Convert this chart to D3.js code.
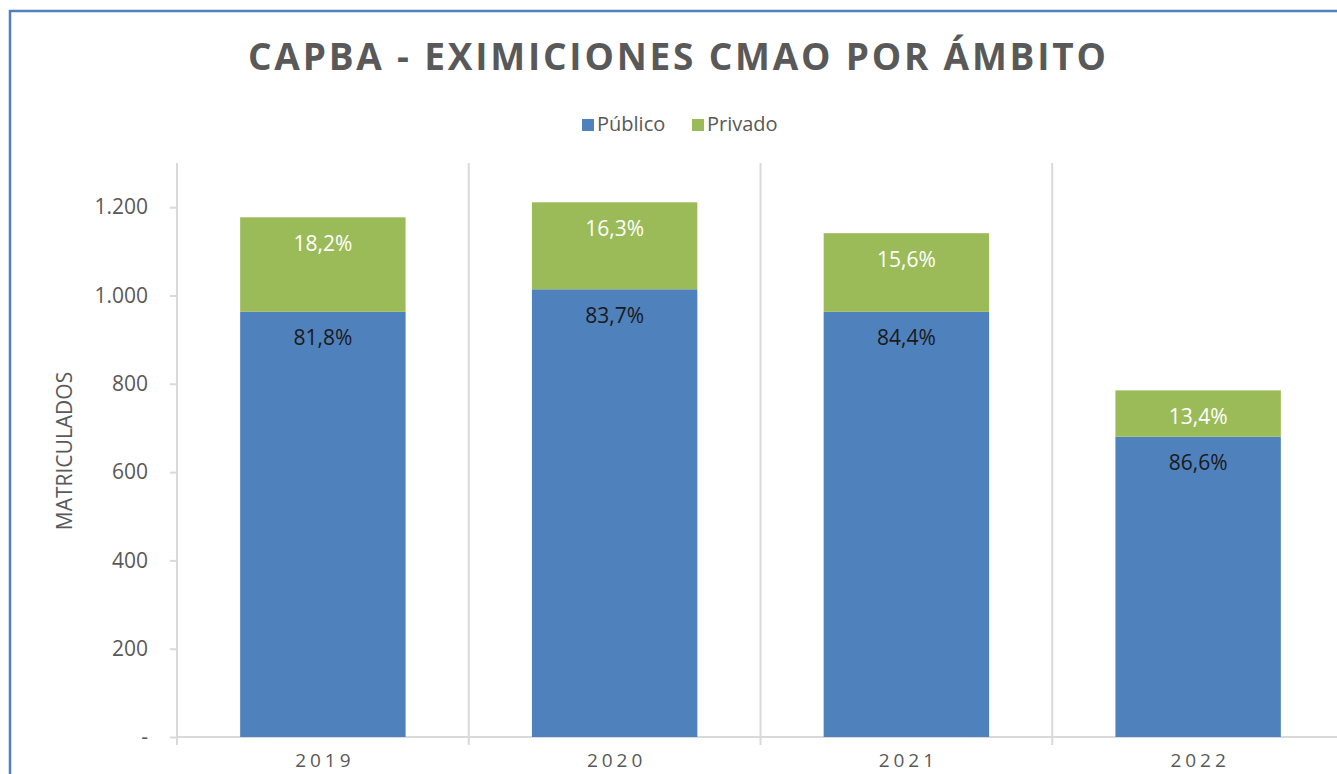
<!DOCTYPE html>
<html>
<head>
<meta charset="utf-8">
<script src="https://cdn.jsdelivr.net/npm/d3@7"></script>
<style>
  html, body { margin: 0; padding: 0; background: #fff; overflow: hidden; }
  svg { display: block; }
</style>
</head>
<body>
<svg id="chart" width="1337" height="774"></svg>
<script>
const YEARS = ["2019", "2020", "2021", "2022"]
const PUBLICO = [963, 1014, 963, 680]
const PRIVADO = [214, 197, 178, 105]
const SERIES = ["Público", "Privado"]
const Y_TICKS = [0, 200, 400, 600, 800, 1000, 1200]

const COLORS = { "Público": "#4f81bd", "Privado": "#9bbb59" }
const GRID = "#d9d9d9"
const TEXT = "#595959"
const FONT = "'Open Sans', 'Lato', sans-serif"

const svg = d3.select("#chart")

// chart border (runs past the right/bottom edges like the screenshot)
svg.append("rect")
  .attr("x", 10).attr("y", 11)
  .attr("width", 1400).attr("height", 800)
  .attr("fill", "none")
  .attr("stroke", "#4f81bd")
  .attr("stroke-width", 2.5)

const plot = { left: 177, right: 1344, top: 163, bottom: 737 }

const x = d3.scaleBand()
  .domain(YEARS)
  .range([plot.left, plot.right])
  .paddingInner(0.433)
  .paddingOuter(0.2165)

const y = d3.scaleLinear()
  .domain([0, 1300])
  .range([plot.bottom, plot.top])

// stacked data
const rows = YEARS.map((year, i) => ({ year, "Público": PUBLICO[i], "Privado": PRIVADO[i] }))
const stack = d3.stack().keys(SERIES)(rows)

// vertical gridlines at category boundaries
const step = x.step()
const bounds = d3.range(YEARS.length + 1).map(i => plot.left + i * step)
svg.append("g")
  .selectAll("line")
  .data(bounds)
  .join("line")
  .attr("x1", d => d).attr("x2", d => d)
  .attr("y1", plot.top).attr("y2", plot.bottom + 8)
  .attr("stroke", GRID)
  .attr("stroke-width", 2)

// x axis baseline
svg.append("line")
  .attr("x1", plot.left).attr("x2", plot.right)
  .attr("y1", plot.bottom).attr("y2", plot.bottom)
  .attr("stroke", GRID).attr("stroke-width", 2)

// y axis
const yAxis = d3.axisLeft(y)
  .tickValues(Y_TICKS)
  .tickSize(7)
  .tickPadding(22)
  .tickFormat(d => d === 0 ? "-" : d3.format(",")(d).replace(/,/g, "."))

const gy = svg.append("g")
  .attr("transform", `translate(${plot.left},0)`)
  .call(yAxis)
gy.select(".domain").remove()
gy.selectAll(".tick line").attr("stroke", GRID).attr("stroke-width", 2)
gy.selectAll(".tick text")
  .attr("fill", TEXT)
  .attr("font-family", FONT)
  .attr("font-size", 21)

// bars
const layers = svg.append("g")
  .selectAll("g")
  .data(stack)
  .join("g")
  .attr("fill", d => COLORS[d.key])

layers.selectAll("rect")
  .data(d => d)
  .join("rect")
  .attr("x", d => x(d.data.year))
  .attr("width", x.bandwidth())
  .attr("y", d => y(d[1]))
  .attr("height", d => y(d[0]) - y(d[1]))

// percentage labels (inside end)
layers.each(function (layer) {
  d3.select(this).selectAll("text")
    .data(layer)
    .join("text")
    .attr("x", d => x(d.data.year) + x.bandwidth() / 2)
    .attr("y", d => y(d[1]) + 28)
    .attr("text-anchor", "middle")
    .attr("dominant-baseline", "middle")
    .attr("font-family", FONT)
    .attr("font-size", 21)
    .attr("fill", layer.key === "Privado" ? "#ffffff" : "#1a1a1a")
    .text(d => {
      const total = d.data["Público"] + d.data["Privado"]
      return d3.format(".1f")((d[1] - d[0]) / total * 100).replace(".", ",") + "%"
    })
})

// x labels
svg.append("g")
  .selectAll("text")
  .data(YEARS)
  .join("text")
  .attr("x", d => x(d) + x.bandwidth() / 2 + 2)
  .attr("y", 762)
  .attr("text-anchor", "middle")
  .attr("dominant-baseline", "middle")
  .attr("font-family", FONT)
  .attr("font-size", 19)
  .attr("letter-spacing", 4)
  .attr("fill", TEXT)
  .text(d => d)

// y axis title
svg.append("text")
  .attr("transform", `translate(66,${(plot.top + plot.bottom) / 2 + 1}) rotate(-90)`)
  .attr("text-anchor", "middle")
  .attr("dominant-baseline", "middle")
  .attr("font-family", FONT)
  .attr("font-size", 21)
  .attr("fill", TEXT)
  .text("MATRICULADOS")

// title
svg.append("text")
  .attr("x", 677)
  .attr("y", 60)
  .attr("text-anchor", "middle")
  .attr("dominant-baseline", "middle")
  .attr("font-family", FONT)
  .attr("font-weight", 700)
  .attr("font-size", 37)
  .attr("fill", TEXT)
  .attr("textLength", 858)
  .attr("lengthAdjust", "spacing")
  .text("CAPBA - EXIMICIONES CMAO POR ÁMBITO")

// legend
const legend = svg.append("g")
const legendX = [582, 692]
SERIES.forEach((s, i) => {
  legend.append("rect")
    .attr("x", legendX[i]).attr("y", 119)
    .attr("width", 12).attr("height", 12)
    .attr("fill", COLORS[s])
  legend.append("text")
    .attr("x", legendX[i] + 15).attr("y", 126)
    .attr("dominant-baseline", "middle")
    .attr("font-family", FONT)
    .attr("font-size", 20)
    .attr("fill", TEXT)
    .text(s)
})
</script>
</body>
</html>
